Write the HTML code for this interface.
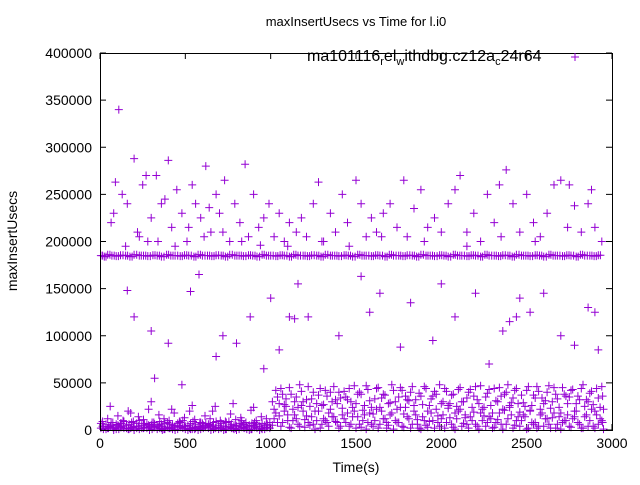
<!DOCTYPE html>
<html><head><meta charset="utf-8"><style>
body{margin:0;background:#fff;}
svg text{font-family:"Liberation Sans",sans-serif;fill:#000;}
</style></head><body>
<svg id="chart" width="640" height="480" viewBox="0 0 640 480" xmlns="http://www.w3.org/2000/svg">
<text x="356" y="26" font-size="13" text-anchor="middle">maxInsertUsecs vs Time for l.i0</text>
<text transform="translate(17,241) rotate(-90)" font-size="14" text-anchor="middle">maxInsertUsecs</text>
<text x="356" y="472" font-size="14" text-anchor="middle">Time(s)</text>
<g id="ticks"></g>
<g id="marks"></g>
<rect x="100.5" y="53.5" width="512" height="377" fill="none" stroke="#000" stroke-width="1"/>
<g>
<text x="307" y="61" font-size="16">ma101116<tspan font-size="11" dy="4">r</tspan><tspan dy="-4">el</tspan><tspan font-size="11" dy="4">w</tspan><tspan dy="-4">ithdbg.cz12a</tspan><tspan font-size="11" dy="4">c</tspan><tspan dy="-4">24r64</tspan></text>
<path d="M571 57h8M575 53v8" stroke="#9400d3" stroke-width="1"/>
</g>
</svg>
<script>
const xTicks=[0,500,1000,1500,2000,2500,3000];
const yTicks=[0,50000,100000,150000,200000,250000,300000,350000,400000];
const bandX=[5,25,45,70,95,120,150,175,200,230,255,280,310,335,360,390,415,440,470,495,520,550,575,600,630,655,680,710,735,760,790,815,840,870,895,920,950,975,1000,1030,1055,1080,1110,1135,1160,1190,1215,1240,1270,1295,1320,1350,1375,1400,1430,1455,1480,1510,1535,1560,1590,1615,1640,1670,1695,1720,1750,1775,1800,1830,1855,1880,1910,1935,1960,1990,2015,2040,2070,2095,2120,2150,2175,2200,2230,2255,2280,2310,2335,2360,2390,2415,2440,2470,2495,2520,2550,2575,2600,2630,2655,2680,2710,2735,2760,2790,2815,2840,2870,2895,2920,2945];
const bandX2=[15,35,58,83,108,135,162,188,215,242,268,295,322,348,375,402,428,455,482,508,535,562,588,615,642,668,695,722,748,775,802,828,855,882,908,935,962,988,1015,1042,1068,1095,1122,1148,1175,1202,1228,1255,1282,1308,1335,1362,1388,1415,1442,1468,1495,1522,1548,1575,1602,1628,1655,1682,1708,1735,1762,1788,1815,1842,1868,1895,1922,1948,1975,2002,2028,2055,2082,2108,2135,2162,2188,2215,2242,2268,2295,2322,2348,2375,2402,2428,2455,2482,2508,2535,2562,2588,2615,2642,2668,2695,2722,2748,2775,2802,2828,2855,2882,2908,2932];
const bandY=[185000,184000,186000,185000,184500,185500,185000,184000,186000,185000,185000,184500,185500,185000,184000,186000,185000,185000,184500,185500,185000,184000,186000,185000,185000,184500,185500,185000,184000,186000,185000,185000,184500,185500,185000,184000,186000,185000,185000,184500,185500,185000,184000,186000,185000,185000,184500,185500,185000,184000,186000,185000,185000,184500,185500,185000,184000,186000,185000,185000,184500,185500,185000,184000,186000,185000,185000,184500,185500,185000,184000,186000,185000,185000,184500,185500,185000,184000,186000,185000,185000,184500,185500,185000,184000,186000,185000,185000,184500,185500,185000,184000,186000,185000,185000,184500,185500,185000,184000,186000,185000,185000,184500,185500,185000,184000,186000,185000,185000,184500,185500];
const upX=[80,110,130,160,200,220,250,280,300,330,360,400,420,450,480,510,540,560,590,620,650,680,700,730,760,790,820,850,870,900,930,960,990,1020,1050,1080,1110,1150,1180,1210,1250,1280,1310,1350,1380,1420,1450,1500,1530,1560,1590,1620,1660,1700,1740,1780,1800,1840,1880,1920,1960,2000,2040,2080,2110,2150,2190,2230,2270,2310,2340,2380,2420,2460,2500,2540,2580,2620,2660,2700,2740,2780,2820,2860,2900,2940,65,150,230,340,440,520,610,720,830,940,1100,1300,1460,1650,1900,2150,2350,2550,2750,2880,90,270,380,640,900,1700,2300];
const upY=[230000,340000,250000,240000,288000,210000,260000,200000,225000,270000,240000,286000,215000,255000,230000,200000,260000,240000,225000,280000,210000,250000,230000,265000,200000,240000,220000,282000,205000,250000,215000,225000,240000,205000,230000,200000,220000,210000,225000,205000,240000,263000,200000,230000,210000,250000,220000,265000,240000,205000,225000,210000,230000,240000,215000,265000,205000,235000,255000,215000,225000,210000,240000,255000,270000,210000,230000,200000,250000,220000,260000,276000,240000,210000,250000,220000,205000,230000,260000,265000,215000,238000,210000,240000,215000,200000,220000,195000,205000,200000,195000,215000,205000,210000,200000,196000,195000,200000,195000,205000,200000,195000,205000,200000,260000,255000,263000,270000,245000,236000,250000];
const midX=[160,200,300,320,400,480,530,580,680,720,800,880,960,1000,1050,1110,1140,1160,1220,1400,1530,1580,1640,1760,1820,1950,2000,2080,2200,2280,2360,2400,2440,2460,2520,2600,2700,2780,2860,2900,2920];
const midY=[148000,120000,105000,55000,92000,48000,147000,165000,78000,100000,92000,120000,65000,140000,85000,120000,118000,155000,120000,100000,163000,125000,145000,88000,135000,95000,155000,120000,145000,70000,105000,115000,120000,140000,125000,145000,100000,90000,130000,125000,85000];
const lowX=[5,20,35,50,65,80,95,110,125,140,155,170,185,200,215,230,245,260,275,290,305,320,335,350,365,380,395,410,425,440,455,470,485,500,515,530,545,560,575,590,605,620,635,650,665,680,695,710,725,740,755,770,785,800,815,830,845,860,875,890,905,920,935,950,965,980,995,15,45,75,105,135,165,195,225,255,285,315,345,375,405,435,465,495,525,555,585,615,645,675,705,735,765,795,825,855,885,915,945,975,60,180,300,420,540,660,780,900,120,360,600,840];
const lowY=[2000,4000,1000,3000,5000,2000,1000,4000,3000,2000,5000,1000,3000,4000,2000,1000,5000,3000,2000,4000,1000,3000,5000,2000,4000,1000,3000,2000,5000,4000,1000,3000,2000,4000,5000,1000,3000,2000,4000,1000,5000,3000,2000,4000,1000,3000,5000,2000,4000,1000,3000,2000,5000,4000,1000,3000,2000,4000,5000,1000,3000,2000,4000,1000,5000,3000,2000,9000,12000,8000,15000,10000,20000,9000,14000,11000,22000,8000,16000,12000,10000,18000,9000,13000,20000,11000,8000,15000,12000,25000,10000,9000,17000,11000,13000,8000,21000,10000,14000,12000,25000,18000,30000,22000,26000,20000,28000,24000,7000,6000,7000,6000];
const lowY2=[7000,1000,6000,2000,8000,0,6000,1000,7000,9000,2000,6000,8000,0,7000,10000,2000,7000,6000,0,8000,6000,1000,9000,0,7000,8000,6000,1000,0,7000,8000,10000,1000,0,7000,9000,6000,0,8000,2000,7000,6000,0,8000,9000,1000,7000,0,8000,9000,6000,1000,0,7000,10000,6000,1000,0,7000,8000,6000,0,7000,1000,6000,8000,4000,2000,3000,5000,4000,1000,3000,4000,2000,5000,3000,4000,1000,2000,3000,5000,4000,2000,1000,3000,4000,5000,2000,3000,1000,4000,2000,5000,3000,1000,4000,2000,3000,4000,2000,5000,3000,1000,4000,2000,5000,3000,2000,4000,3000];
const rX=[1010,1030,1050,1070,1090,1110,1130,1150,1170,1190,1210,1230,1250,1270,1290,1310,1330,1350,1370,1390,1410,1430,1450,1470,1490,1510,1530,1550,1570,1590,1610,1630,1650,1670,1690,1710,1730,1750,1770,1790,1810,1830,1850,1870,1890,1910,1930,1950,1970,1990,2010,2030,2050,2070,2090,2110,2130,2150,2170,2190,2210,2230,2250,2270,2290,2310,2330,2350,2370,2390,2410,2430,2450,2470,2490,2510,2530,2550,2570,2590,2610,2630,2650,2670,2690,2710,2730,2750,2770,2790,2810,2830,2850,2870,2890,2910,2930,2945];
const rX2=[1020,1040,1060,1080,1100,1120,1140,1160,1180,1200,1220,1240,1260,1280,1300,1320,1340,1360,1380,1400,1420,1440,1460,1480,1500,1520,1540,1560,1580,1600,1620,1640,1660,1680,1700,1720,1740,1760,1780,1800,1820,1840,1860,1880,1900,1920,1940,1960,1980,2000,2020,2040,2060,2080,2100,2120,2140,2160,2180,2200,2220,2240,2260,2280,2300,2320,2340,2360,2380,2400,2420,2440,2460,2480,2500,2520,2540,2560,2580,2600,2620,2640,2660,2680,2700,2720,2740,2760,2780,2800,2820,2840,2860,2880,2900,2920,2940,2950];
const rY1=[30000,42000,15000,38000,25000,45000,10000,35000,48000,20000,32000,5000,40000,28000,44000,12000,36000,22000,46000,8000,34000,41000,18000,30000,47000,14000,38000,26000,43000,6000,33000,45000,20000,37000,28000,48000,10000,35000,42000,24000,31000,46000,16000,39000,27000,44000,9000,36000,22000,48000,30000,41000,13000,38000,25000,45000,7000,34000,43000,19000,32000,47000,15000,39000,26000,44000,11000,36000,21000,48000,29000,42000,14000,37000,25000,46000,8000,34000,41000,18000,31000,47000,13000,38000,24000,45000,10000,35000,43000,20000,32000,48000,16000,39000,27000,44000,12000,36000];
const rY2=[5000,18000,28000,8000,33000,3000,22000,12000,4000,30000,15000,25000,6000,10000,2000,27000,8000,40000,14000,28000,4000,12000,32000,6000,20000,38000,3000,16000,8000,24000,10000,2000,34000,12000,5000,18000,30000,8000,4000,36000,12000,6000,32000,2000,14000,5000,26000,10000,38000,4000,16000,8000,28000,3000,12000,22000,30000,6000,14000,36000,4000,18000,24000,8000,12000,3000,30000,6000,38000,12000,16000,5000,28000,10000,14000,2000,26000,8000,4000,34000,12000,6000,30000,2000,14000,8000,36000,4000,12000,28000,6000,2000,32000,10000,4000,16000,24000,8000];
const rY3=[22000,35000,44000,27000,16000,38000,30000,24000,41000,11000,46000,33000,20000,37000,26000,42000,18000,30000,9000,40000,23000,35000,44000,14000,28000,40000,21000,47000,31000,17000,44000,24000,38000,8000,29000,42000,22000,45000,17000,32000,40000,26000,11000,36000,46000,20000,33000,41000,15000,28000,44000,23000,37000,18000,43000,30000,13000,40000,24000,46000,28000,10000,35000,43000,18000,31000,45000,22000,40000,26000,34000,44000,19000,29000,42000,21000,37000,46000,16000,28000,40000,23000,45000,33000,18000,38000,28000,42000,14000,36000,44000,25000,30000,41000,20000,34000,46000,22000];
const rY4=[12000,8000,4000,20000,10000,2000,16000,6000,26000,3000,8000,14000,1000,20000,6000,10000,4000,14000,32000,2000,16000,8000,4000,24000,2000,6000,10000,1000,18000,4000,22000,6000,12000,2000,16000,1000,8000,24000,3000,14000,2000,20000,6000,1000,10000,3000,18000,2000,8000,12000,2000,26000,6000,1000,20000,4000,16000,2000,10000,6000,1000,22000,4000,14000,2000,8000,18000,1000,6000,24000,2000,10000,4000,16000,1000,20000,6000,2000,22000,4000,12000,2000,18000,6000,1000,10000,16000,3000,20000,8000,2000,14000,4000,22000,2000,6000,10000,1000];
const X=v=>100+v/3000*512, Y=v=>430-v/400000*377;
const NS="http://www.w3.org/2000/svg";
const tg=document.getElementById('ticks'), mg=document.getElementById('marks');
xTicks.forEach(t=>{const x=X(t);
 const p=document.createElementNS(NS,'path');p.setAttribute('d',`M${x} 430v-6M${x} 53v6`);p.setAttribute('stroke','#000');
 
 
 tg.appendChild(p);
 const tx=document.createElementNS(NS,'text');tx.setAttribute('x',x);tx.setAttribute('y',448);tx.setAttribute('font-size','14');tx.setAttribute('text-anchor','middle');tx.textContent=t;
 
 
 tg.appendChild(tx);});
yTicks.forEach(t=>{const y=Y(t);
 const p=document.createElementNS(NS,'path');p.setAttribute('d',`M100 ${y}h6M612 ${y}h-6`);p.setAttribute('stroke','#000');
 
 
 tg.appendChild(p);
 const tx=document.createElementNS(NS,'text');tx.setAttribute('x',92);tx.setAttribute('y',y+5);tx.setAttribute('font-size','14');tx.setAttribute('text-anchor','end');tx.textContent=t;
 
 
 tg.appendChild(tx);});
function plot(xs,ys){let d='';xs.forEach((v,i)=>{if(ys[i]===undefined)return;const x=X(v),y=Y(ys[i]);d+=`M${(x-4).toFixed(1)} ${y.toFixed(1)}h8M${x.toFixed(1)} ${(y-4).toFixed(1)}v8`;});
 const p=document.createElementNS(NS,'path');p.setAttribute('d',d);p.setAttribute('stroke','#9400d3');p.setAttribute('stroke-width','1');p.setAttribute('fill','none');
 
 
 mg.appendChild(p);}
plot(bandX,bandY);plot(bandX2,bandY);plot(upX,upY);plot(midX,midY);plot(lowX,lowY);plot(lowX,lowY2);plot(rX,rY1);plot(rX,rY2);plot(rX2,rY3);plot(rX2,rY4);
</script>
</body></html>
